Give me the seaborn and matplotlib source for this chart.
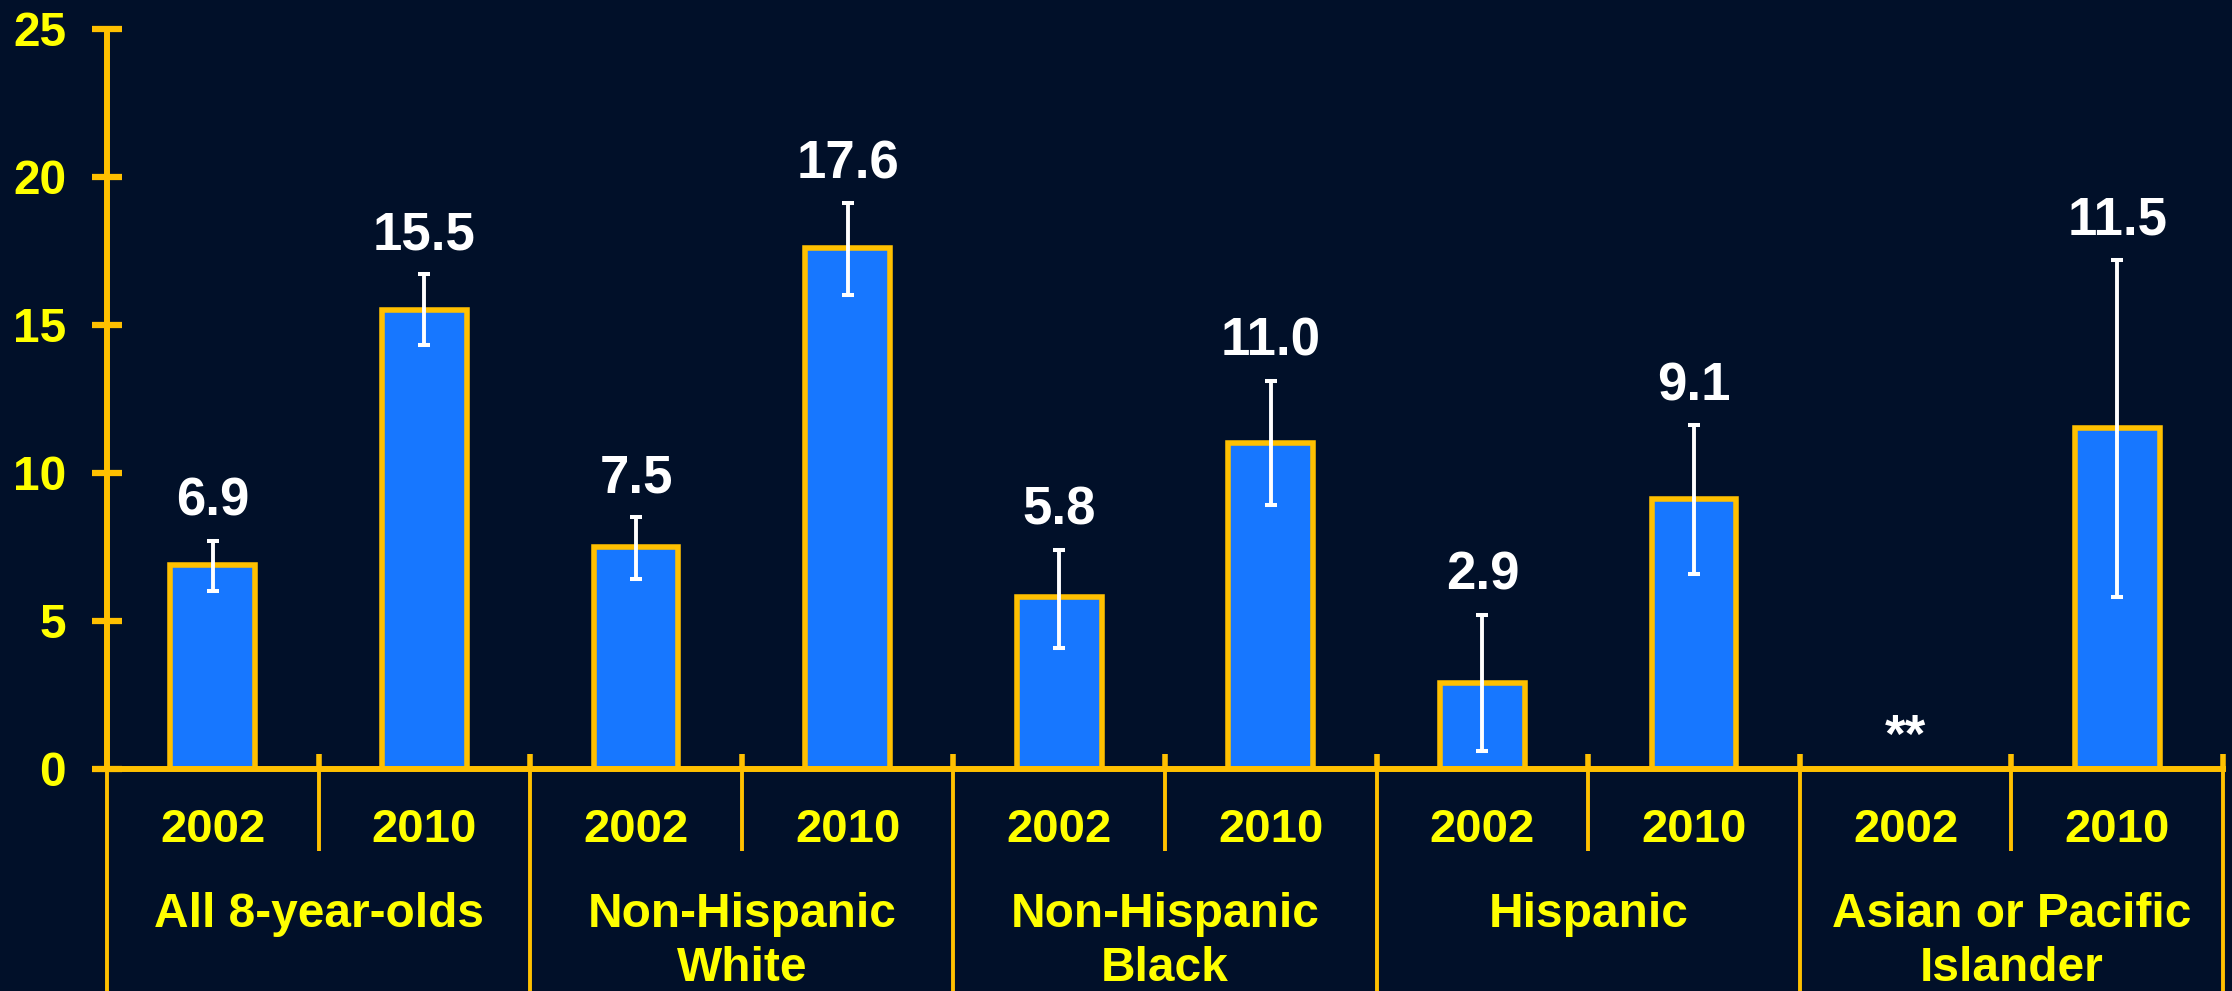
import matplotlib
matplotlib.use("Agg")
import matplotlib.pyplot as plt
import seaborn as sns
import pandas as pd
import numpy as np

# ---- data ----
groups = ["All 8-year-olds", "Non-Hispanic\nWhite", "Non-Hispanic\nBlack",
          "Hispanic", "Asian or Pacific\nIslander"]
years = ["2002", "2010"]
prevalence = [6.9, 15.5, 7.5, 17.6, 5.8, 11.0, 2.9, 9.1, np.nan, 11.5]
ci_low = [6.0, 14.3, 6.4, 16.0, 4.1, 8.9, 0.6, 6.6, np.nan, 5.8]
ci_high = [7.7, 16.7, 8.5, 19.1, 7.4, 13.1, 5.2, 11.6, np.nan, 17.2]
missing_label = "**"
yticks = [0, 5, 10, 15, 20, 25]

# ---- style ----
BG = "#011029"
BLUE = "#1777FF"
ORANGE = "#FFC000"
YELLOW = "#FFFF00"
WHITE = "#FFFFFF"

sns.set_style("dark", {"axes.facecolor": BG, "figure.facecolor": BG})
plt.rcParams["font.family"] = ["Liberation Sans", "DejaVu Sans"]
plt.rcParams["font.weight"] = "bold"

bars = [f"{g}|{y}" for g in groups for y in years]
df = pd.DataFrame({"bar": bars, "value": prevalence})

fig = plt.figure(figsize=(22.32, 9.91), dpi=100)
fig.patch.set_facecolor(BG)
ax = fig.add_axes([107 / 2232, 222 / 991, (2223 - 107) / 2232, 740.5 / 991])
ax.set_facecolor(BG)

sns.barplot(data=df, x="bar", y="value", order=bars, color=BLUE,
            saturation=1, edgecolor=ORANGE, linewidth=4.0, width=0.4,
            errorbar=None, ax=ax)

xpos = np.arange(len(bars))
prev = np.array(prevalence, dtype=float)
lo = np.array(ci_low, dtype=float)
hi = np.array(ci_high, dtype=float)
ax.errorbar(xpos, prev, yerr=[prev - lo, hi - prev], fmt="none",
            ecolor=WHITE, elinewidth=2.8, capsize=4.6, capthick=2.9, zorder=3)

for i, v in enumerate(prev):
    if np.isnan(v):
        ax.annotate(missing_label, (i, 0), xytext=(0, 12), textcoords="offset points",
                    ha="center", va="baseline", color=WHITE, fontsize=38,
                    fontweight="bold")
    else:
        ax.annotate(f"{v:.1f}", (i, hi[i]), xytext=(0, 18), textcoords="offset points",
                    ha="center", va="baseline", color=WHITE, fontsize=38,
                    fontweight="bold")

ax.set_xlim(-0.5, len(bars) - 0.5)
ax.set_ylim(0, 25)
ax.set_yticks(yticks)
ax.set_yticklabels([str(t) for t in yticks])
ax.set_xlabel("")
ax.set_ylabel("")
ax.grid(False)

for s in ["top", "right"]:
    ax.spines[s].set_visible(False)
for s in ["left", "bottom"]:
    ax.spines[s].set_visible(True)
    ax.spines[s].set_color(ORANGE)
    ax.spines[s].set_linewidth(4.3)

ax.tick_params(axis="y", direction="inout", length=21, width=4.5, color=ORANGE,
               labelcolor=YELLOW, labelsize=34.5, pad=19, left=True)
for lab in ax.get_yticklabels():
    lab.set_fontweight("bold")

sep_pos = np.arange(0.5, len(bars), 1.0)
ax.set_xticks(sep_pos)
ax.set_xticklabels([""] * len(sep_pos))
ax.tick_params(axis="x", direction="in", length=11, width=4, color=ORANGE, bottom=True)

trans = ax.get_xaxis_transform()
# separators below the axis
for g in range(len(groups)):
    ax.plot([2 * g + 0.5, 2 * g + 0.5], [0, -0.1107], transform=trans,
            color=ORANGE, lw=2.8, clip_on=False, solid_capstyle="butt")
for g in range(len(groups) + 1):
    ax.plot([2 * g - 0.5, 2 * g - 0.5], [0, -0.32], transform=trans,
            color=ORANGE, lw=2.8, clip_on=False, solid_capstyle="butt")

# year labels and group labels
for i, b in enumerate(bars):
    ax.text(i, -0.0986, b.split("|")[1], transform=trans, ha="center",
            va="baseline", color=YELLOW, fontsize=34, fontweight="bold")
for g, name in enumerate(groups):
    ax.text(2 * g + 0.5, -0.166, name, transform=trans, ha="center",
            va="top", color=YELLOW, fontsize=34.5, fontweight="bold",
            linespacing=1.27, multialignment="center")

fig.savefig("out.png", dpi=100, facecolor=BG)
